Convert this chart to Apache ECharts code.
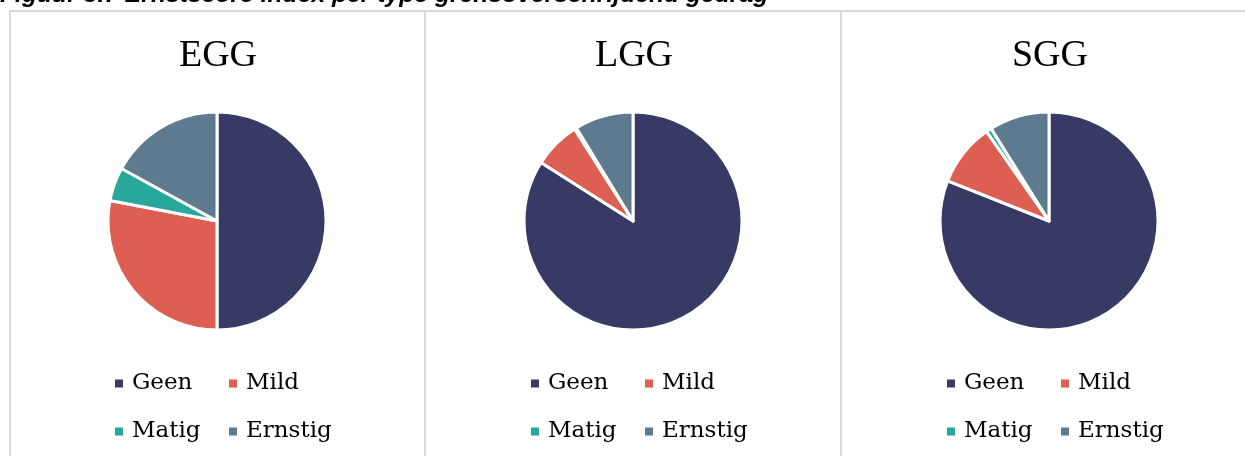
<!DOCTYPE html>
<html><head><meta charset="utf-8">
<script src="https://cdn.jsdelivr.net/npm/echarts@6/dist/echarts.min.js"></script>
<style>html,body{margin:0;padding:0;background:#fff}#c{width:1245px;height:456px}</style>
</head><body><div id="c"></div>
<script>
const figureTitle = 'Figuur 5.7 Ernstscore index per type grensoverschrijdend gedrag';
const categories = ['Geen', 'Mild', 'Matig', 'Ernstig'];
const panels = ['EGG', 'LGG', 'SGG'];
const egg = [50, 28, 5, 17];
const lgg = [84, 7, 0.3, 8.7];
const sgg = [81, 9.3, 0.8, 8.9];
const colors = ['#383a66', '#dd5e52', '#2aa79b', '#5e7a8e'];

const values = [egg, lgg, sgg];
const centers = [217, 633, 1049];
const serif = '"Liberation Serif", "Times New Roman", serif';
const legendFont = '"DejaVu Serif", serif';

const series = panels.map((p, i) => ({
  type: 'pie',
  name: p,
  center: [centers[i], 221],
  radius: 109,
  startAngle: 90,
  clockwise: true,
  label: { show: false },
  labelLine: { show: false },
  emphasis: { disabled: true },
  itemStyle: { borderColor: '#fff', borderWidth: 3 },
  data: categories.map((c, k) => ({ name: c, value: values[i][k] }))
}));

const legends = [];
const titles = [];
panels.forEach((p, i) => {
  const x0 = centers[i] - 102;
  titles.push({ text: p, left: centers[i] - 4, top: 32, textAlign: 'center',
    textStyle: { fontFamily: serif, fontSize: 38, fontWeight: 'normal', color: '#000' } });
  categories.forEach((c, k) => {
    legends.push({
      data: [c], icon: 'rect', itemWidth: 8, itemHeight: 8, padding: 0,
      itemStyle: { borderWidth: 0 },
      left: x0 + (k % 2) * 114, top: k < 2 ? 368.5 : 416.5,
      selectedMode: false,
      textStyle: { fontFamily: legendFont, fontSize: 23, color: '#000', lineHeight: 30, padding: [0, 0, 0, 4] }
    });
  });
});

const line = '#d9d9d9';
const chart = echarts.init(document.getElementById('c'), null, { renderer: 'canvas' });
chart.setOption({
  animation: false,
  color: colors,
  title: titles,
  legend: legends,
  series: series,
  graphic: [
    { type: 'text', left: 0, top: -17, style: { text: figureTitle, fontFamily: '"Liberation Sans", Arial, sans-serif', fontSize: 24.7, fontWeight: 'bold', fontStyle: 'italic', fill: '#000' } },
    { type: 'line', shape: { x1: 9, y1: 11, x2: 1245, y2: 11 }, style: { stroke: line, lineWidth: 2 } },
    { type: 'line', shape: { x1: 10, y1: 11, x2: 10, y2: 456 }, style: { stroke: line, lineWidth: 2 } },
    { type: 'line', shape: { x1: 425, y1: 11, x2: 425, y2: 456 }, style: { stroke: line, lineWidth: 2 } },
    { type: 'line', shape: { x1: 841, y1: 11, x2: 841, y2: 456 }, style: { stroke: line, lineWidth: 2 } }
  ]
});
</script></body></html>
